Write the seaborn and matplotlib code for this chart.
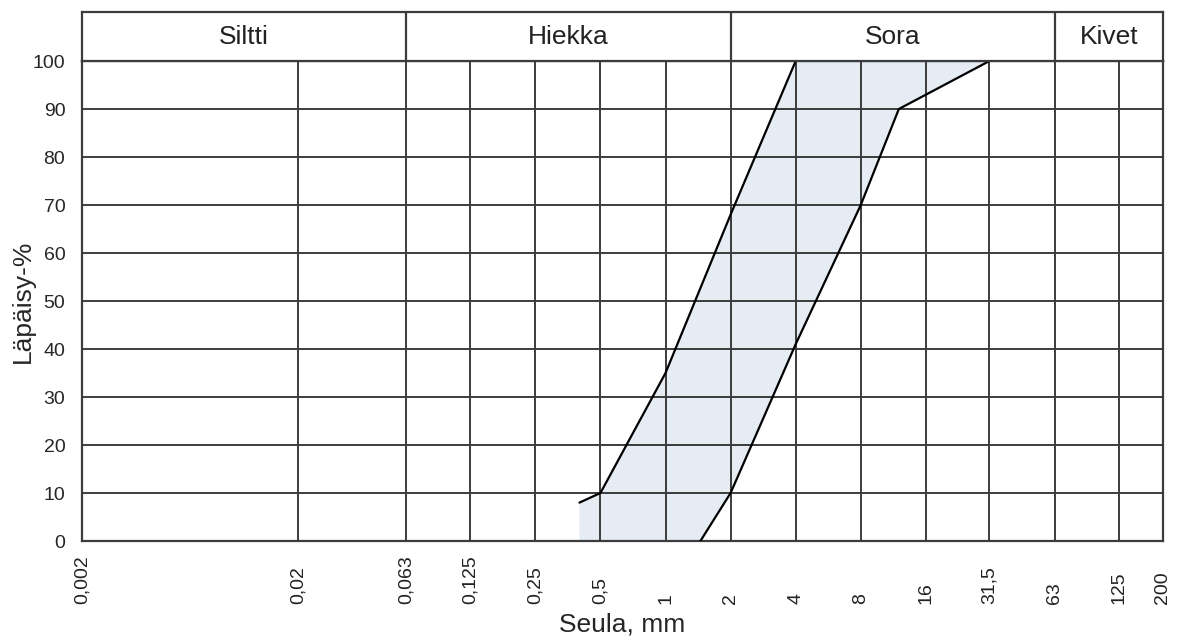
import numpy as np
import matplotlib
matplotlib.use("Agg")
import matplotlib.pyplot as plt
import matplotlib.transforms as mtransforms
import seaborn as sns

# ---- data ----
sieve_ticks = [0.002, 0.02, 0.063, 0.125, 0.25, 0.5, 1, 2, 4, 8, 16, 31.5, 63, 125, 200]
tick_labels = ["0,002", "0,02", "0,063", "0,125", "0,25", "0,5", "1", "2", "4",
               "8", "16", "31,5", "63", "125", "200"]
y_ticks = [0, 10, 20, 30, 40, 50, 60, 70, 80, 90, 100]

upper_x = [0.4, 0.5, 1, 2, 4]
upper_y = [8, 10, 35, 68, 100]
lower_x = [1.45, 2, 4, 8, 12, 31.5]
lower_y = [0, 10, 41, 70, 90, 100]

classes = ["Siltti", "Hiekka", "Sora", "Kivet"]
class_bounds = [0.002, 0.063, 2, 63, 200]

# ---- style ----
sns.set_style("white")
plt.rcParams['font.family'] = ['Liberation Sans', 'DejaVu Sans']

grid_col = "#3c3c3c"
fill_col = "#e5ecf4"

fig = plt.figure(figsize=(11.83, 6.42), dpi=100)
ax = fig.add_axes([82 / 1183, (642 - 541) / 642, (1163 - 82) / 1183, 480 / 642])
hax = fig.add_axes([82 / 1183, (642 - 61) / 642, (1163 - 82) / 1183, 49 / 642], sharex=None)

ax.set_xscale("log")
ax.set_xlim(class_bounds[0], class_bounds[-1])
ax.set_ylim(0, 100)

# shaded band between the two curves
poly_x = np.concatenate([upper_x, [lower_x[-1]], lower_x[::-1], [upper_x[0]]])
poly_y = np.concatenate([upper_y, [lower_y[-1]], lower_y[::-1], [0]])
ax.fill(poly_x, poly_y, color=fill_col, lw=0, zorder=1)

# grid
ax.set_xticks(sieve_ticks)
ax.set_xticklabels([])
ax.xaxis.set_minor_locator(matplotlib.ticker.NullLocator())
ax.set_yticks(y_ticks)
ax.set_yticklabels([str(v) for v in y_ticks], fontsize=14)
ax.tick_params(axis="both", length=0)
ax.tick_params(axis="y", pad=12)
ax.grid(True, color=grid_col, lw=1.4, zorder=2)
ax.set_axisbelow(False)
for s in ax.spines.values():
    s.set_color(grid_col)
    s.set_linewidth(1.6)
    s.set_visible(True)

# curves
sns.lineplot(x=upper_x, y=upper_y, ax=ax, color="black", lw=1.6, sort=False,
             estimator=None, zorder=4)
sns.lineplot(x=lower_x, y=lower_y, ax=ax, color="black", lw=1.6, sort=False,
             estimator=None, zorder=4)

# x tick labels (rotated, bottom-aligned)
trans = mtransforms.blended_transform_factory(ax.transData, ax.transAxes)
for xv, lab in zip(sieve_ticks, tick_labels):
    ax.text(xv, -0.131, lab, rotation=90, ha="center", va="bottom",
            fontsize=14, transform=trans, color="#222222")

ax.set_xlabel("Seula, mm", fontsize=19)
ax.xaxis.set_label_coords(0.5, -0.148)
ax.xaxis.label.set_va("top")
ax.set_ylabel("Läpäisy-%", fontsize=19)
ax.yaxis.set_label_coords(-0.044, 0.5)

# header with soil classes
hax.set_xscale("log")
hax.set_xlim(class_bounds[0], class_bounds[-1])
hax.set_ylim(0, 1)
hax.set_xticks([])
hax.set_yticks([])
hax.xaxis.set_minor_locator(matplotlib.ticker.NullLocator())
for s in hax.spines.values():
    s.set_color(grid_col)
    s.set_linewidth(1.6)
    s.set_visible(True)
for b in class_bounds[1:-1]:
    hax.axvline(b, color=grid_col, lw=1.6)
for i, name in enumerate(classes):
    xm = np.sqrt(class_bounds[i] * class_bounds[i + 1])
    hax.text(xm, 0.5, name, ha="center", va="center", fontsize=19, color="#222222")

fig.savefig("out.png", dpi=100)
